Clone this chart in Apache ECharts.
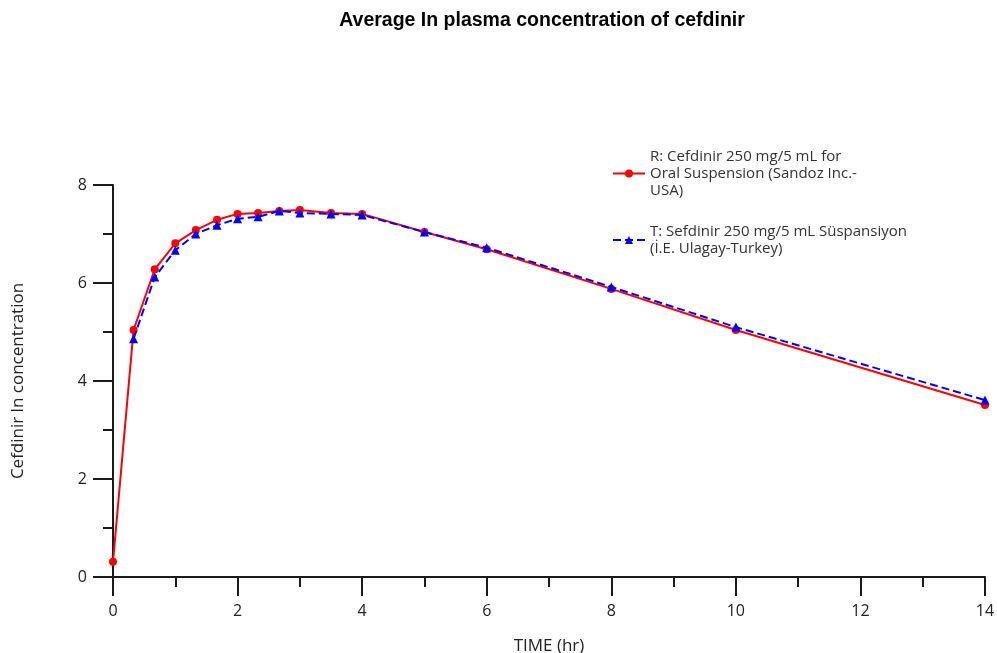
<!DOCTYPE html>
<html>
<head>
<meta charset="utf-8">
<title>Average ln plasma concentration of cefdinir</title>
<script src="https://cdn.jsdelivr.net/npm/echarts@6/dist/echarts.min.js"></script>
<style>
  html, body { margin: 0; padding: 0; background: #fff; }
  #main { width: 997px; height: 653px; }
</style>
</head>
<body>
<div id="main"></div>
<script>
// sampling times (hr)
var times = [0, 0.33, 0.67, 1, 1.33, 1.67, 2, 2.33, 2.67, 3, 3.5, 4, 5, 6, 8, 10, 14];
// reference product R
var refValues = [0.31, 5.04, 6.28, 6.81, 7.08, 7.29, 7.41, 7.43, 7.47, 7.49, 7.43, 7.41, 7.04, 6.69, 5.88, 5.04, 3.51];
// test product T (no point at t=0)
var testValues = [null, 4.86, 6.12, 6.67, 7.0, 7.18, 7.31, 7.35, 7.47, 7.43, 7.41, 7.39, 7.04, 6.72, 5.92, 5.10, 3.61];
var seriesNames = [
  "R: Cefdinir 250 mg/5 mL for\nOral Suspension (Sandoz Inc.-\nUSA)",
  "T: Sefdinir 250 mg/5 mL Süspansiyon\n(İ.E. Ulagay-Turkey)"
];

function pairs(xs, ys) {
  var out = [];
  for (var i = 0; i < xs.length; i++) {
    if (ys[i] !== null) out.push([xs[i], ys[i]]);
  }
  return out;
}

var labelFont = "'Open Sans', 'DejaVu Sans', sans-serif";
var axisColor = "#1a1a1a";

var myChart = echarts.init(document.getElementById("main"));
myChart.setOption({
  animation: false,
  title: {
    text: "Average In plasma concentration of cefdinir",
    left: 537,
    textAlign: "center",
    top: 6,
    textStyle: {
      fontFamily: "'Liberation Sans', Arial, sans-serif",
      fontWeight: "bold",
      fontSize: 19.5,
      color: "#000"
    }
  },
  legend: {
    orient: "vertical",
    left: 607,
    top: 143,
    itemWidth: 32,
    itemHeight: 10,
    itemGap: 24,
    data: seriesNames,
    textStyle: {
      fontFamily: labelFont,
      fontSize: 15,
      lineHeight: 17,
      color: "#333"
    }
  },
  grid: {
    left: 113,
    right: 12,
    top: 185,
    bottom: 76,
    outerBoundsMode: "none"
  },
  xAxis: {
    type: "value",
    min: 0,
    max: 14,
    interval: 2,
    name: "TIME (hr)",
    nameLocation: "middle",
    nameGap: 61,
    nameTextStyle: {
      fontFamily: labelFont,
      fontSize: 17,
      color: "#222"
    },
    axisLine: { show: true, lineStyle: { color: axisColor, width: 2 } },
    axisTick: { show: true, length: 19, lineStyle: { color: axisColor, width: 2 } },
    minorTick: { show: true, splitNumber: 2, length: 10, lineStyle: { color: axisColor, width: 2 } },
    splitLine: { show: false },
    axisLabel: {
      margin: 26,
      fontFamily: labelFont,
      fontSize: 16,
      color: "#222"
    }
  },
  yAxis: {
    type: "value",
    min: 0,
    max: 8,
    interval: 2,
    name: "Cefdinir ln concentration",
    nameLocation: "middle",
    nameGap: 86,
    nameRotate: 90,
    nameTextStyle: {
      fontFamily: labelFont,
      fontSize: 17,
      color: "#222"
    },
    axisLine: { show: true, lineStyle: { color: axisColor, width: 2 } },
    axisTick: { show: true, length: 20, lineStyle: { color: axisColor, width: 2 } },
    minorTick: { show: true, splitNumber: 2, length: 10, lineStyle: { color: axisColor, width: 2 } },
    splitLine: { show: false },
    axisLabel: {
      margin: 26,
      fontFamily: labelFont,
      fontSize: 16,
      color: "#222"
    }
  },
  series: [
    {
      name: seriesNames[0],
      type: "line",
      data: pairs(times, refValues),
      symbol: "circle",
      symbolSize: 8,
      itemStyle: { color: "#ff0000" },
      lineStyle: { color: "#ff0000", width: 2 },
      z: 2
    },
    {
      name: seriesNames[1],
      type: "line",
      data: pairs(times, testValues),
      symbol: "triangle",
      symbolSize: 9,
      itemStyle: { color: "#0000ff" },
      lineStyle: { color: "#0000ff", width: 2, type: [8, 4] },
      z: 3
    }
  ]
});
</script>
</body>
</html>
